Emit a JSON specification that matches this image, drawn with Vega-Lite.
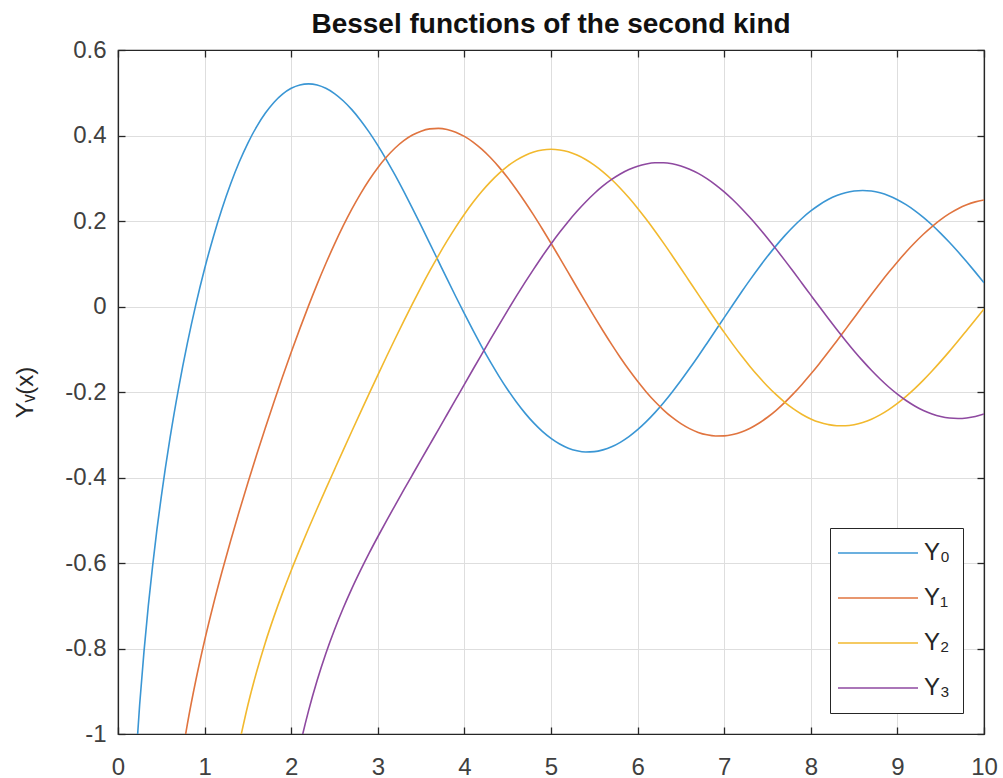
{
  "$schema": "https://vega.github.io/schema/vega-lite/v6.json",
  "autosize": {"type": "none"},
  "width": 866,
  "height": 684,
  "padding": {"left": 118, "top": 50, "right": 19, "bottom": 44},
  "background": "white",
  "title": {
    "text": "Bessel functions of the second kind",
    "font": "Liberation Sans",
    "fontSize": 28,
    "fontWeight": "bold",
    "color": "#111111",
    "offset": -1,
    "anchor": "middle"
  },
  "config": {
    "view": {"stroke": "#262626", "strokeWidth": 1.2},
    "axis": {
      "labelFont": "Liberation Sans",
      "labelFontSize": 24,
      "labelColor": "#404040",
      "titleFont": "Liberation Sans",
      "titleFontSize": 24,
      "titleFontWeight": "normal",
      "titleColor": "#262626",
      "domainColor": "#262626",
      "domainWidth": 1.2,
      "tickColor": "#262626",
      "tickWidth": 1.3,
      "gridColor": "#dedede",
      "gridWidth": 1
    }
  },
  "data": {
    "values": [
      {"x": 0.1, "y": -1.5342, "s": "Y₀"}, {"x": 0.15, "y": -1.2708, "s": "Y₀"}, {"x": 0.2, "y": -1.0811, "s": "Y₀"}, {"x": 0.25, "y": -0.9316, "s": "Y₀"},
      {"x": 0.3, "y": -0.8073, "s": "Y₀"}, {"x": 0.35, "y": -0.7001, "s": "Y₀"}, {"x": 0.4, "y": -0.606, "s": "Y₀"}, {"x": 0.45, "y": -0.5209, "s": "Y₀"},
      {"x": 0.5, "y": -0.4445, "s": "Y₀"}, {"x": 0.6, "y": -0.3085, "s": "Y₀"}, {"x": 0.7, "y": -0.1907, "s": "Y₀"}, {"x": 0.8, "y": -0.0868, "s": "Y₀"},
      {"x": 0.9, "y": 0.0056, "s": "Y₀"}, {"x": 1.0, "y": 0.0883, "s": "Y₀"}, {"x": 1.1, "y": 0.1622, "s": "Y₀"}, {"x": 1.2, "y": 0.2281, "s": "Y₀"},
      {"x": 1.3, "y": 0.2865, "s": "Y₀"}, {"x": 1.4, "y": 0.3379, "s": "Y₀"}, {"x": 1.5, "y": 0.3824, "s": "Y₀"}, {"x": 1.6, "y": 0.4204, "s": "Y₀"},
      {"x": 1.7, "y": 0.452, "s": "Y₀"}, {"x": 1.8, "y": 0.4774, "s": "Y₀"}, {"x": 1.9, "y": 0.4968, "s": "Y₀"}, {"x": 2.0, "y": 0.5104, "s": "Y₀"},
      {"x": 2.1, "y": 0.5183, "s": "Y₀"}, {"x": 2.2, "y": 0.5208, "s": "Y₀"}, {"x": 2.3, "y": 0.5181, "s": "Y₀"}, {"x": 2.4, "y": 0.5104, "s": "Y₀"},
      {"x": 2.5, "y": 0.4981, "s": "Y₀"}, {"x": 2.6, "y": 0.4813, "s": "Y₀"}, {"x": 2.7, "y": 0.4605, "s": "Y₀"}, {"x": 2.8, "y": 0.4359, "s": "Y₀"},
      {"x": 2.9, "y": 0.4079, "s": "Y₀"}, {"x": 3.0, "y": 0.3769, "s": "Y₀"}, {"x": 3.1, "y": 0.3431, "s": "Y₀"}, {"x": 3.2, "y": 0.3071, "s": "Y₀"},
      {"x": 3.3, "y": 0.2691, "s": "Y₀"}, {"x": 3.4, "y": 0.2296, "s": "Y₀"}, {"x": 3.5, "y": 0.189, "s": "Y₀"}, {"x": 3.6, "y": 0.1477, "s": "Y₀"},
      {"x": 3.7, "y": 0.1061, "s": "Y₀"}, {"x": 3.8, "y": 0.0645, "s": "Y₀"}, {"x": 3.9, "y": 0.0234, "s": "Y₀"}, {"x": 4.0, "y": -0.0169, "s": "Y₀"},
      {"x": 4.1, "y": -0.0561, "s": "Y₀"}, {"x": 4.2, "y": -0.0938, "s": "Y₀"}, {"x": 4.3, "y": -0.1296, "s": "Y₀"}, {"x": 4.4, "y": -0.1633, "s": "Y₀"},
      {"x": 4.5, "y": -0.1947, "s": "Y₀"}, {"x": 4.6, "y": -0.2235, "s": "Y₀"}, {"x": 4.7, "y": -0.2494, "s": "Y₀"}, {"x": 4.8, "y": -0.2723, "s": "Y₀"},
      {"x": 4.9, "y": -0.2921, "s": "Y₀"}, {"x": 5.0, "y": -0.3085, "s": "Y₀"}, {"x": 5.1, "y": -0.3216, "s": "Y₀"}, {"x": 5.2, "y": -0.3313, "s": "Y₀"},
      {"x": 5.3, "y": -0.3374, "s": "Y₀"}, {"x": 5.4, "y": -0.3402, "s": "Y₀"}, {"x": 5.5, "y": -0.3395, "s": "Y₀"}, {"x": 5.6, "y": -0.3354, "s": "Y₀"},
      {"x": 5.7, "y": -0.3282, "s": "Y₀"}, {"x": 5.8, "y": -0.3177, "s": "Y₀"}, {"x": 5.9, "y": -0.3044, "s": "Y₀"}, {"x": 6.0, "y": -0.2882, "s": "Y₀"},
      {"x": 6.1, "y": -0.2694, "s": "Y₀"}, {"x": 6.2, "y": -0.2483, "s": "Y₀"}, {"x": 6.3, "y": -0.2251, "s": "Y₀"}, {"x": 6.4, "y": -0.1999, "s": "Y₀"},
      {"x": 6.5, "y": -0.1732, "s": "Y₀"}, {"x": 6.6, "y": -0.1452, "s": "Y₀"}, {"x": 6.7, "y": -0.1162, "s": "Y₀"}, {"x": 6.8, "y": -0.0864, "s": "Y₀"},
      {"x": 6.9, "y": -0.0563, "s": "Y₀"}, {"x": 7.0, "y": -0.0259, "s": "Y₀"}, {"x": 7.1, "y": 0.0042, "s": "Y₀"}, {"x": 7.2, "y": 0.0339, "s": "Y₀"},
      {"x": 7.3, "y": 0.0628, "s": "Y₀"}, {"x": 7.4, "y": 0.0907, "s": "Y₀"}, {"x": 7.5, "y": 0.1173, "s": "Y₀"}, {"x": 7.6, "y": 0.1424, "s": "Y₀"},
      {"x": 7.7, "y": 0.1658, "s": "Y₀"}, {"x": 7.8, "y": 0.1872, "s": "Y₀"}, {"x": 7.9, "y": 0.2065, "s": "Y₀"}, {"x": 8.0, "y": 0.2235, "s": "Y₀"},
      {"x": 8.1, "y": 0.2381, "s": "Y₀"}, {"x": 8.2, "y": 0.2501, "s": "Y₀"}, {"x": 8.3, "y": 0.2595, "s": "Y₀"}, {"x": 8.4, "y": 0.2662, "s": "Y₀"},
      {"x": 8.5, "y": 0.2702, "s": "Y₀"}, {"x": 8.6, "y": 0.2715, "s": "Y₀"}, {"x": 8.7, "y": 0.27, "s": "Y₀"}, {"x": 8.8, "y": 0.2659, "s": "Y₀"},
      {"x": 8.9, "y": 0.2592, "s": "Y₀"}, {"x": 9.0, "y": 0.2499, "s": "Y₀"}, {"x": 9.1, "y": 0.2383, "s": "Y₀"}, {"x": 9.2, "y": 0.2245, "s": "Y₀"},
      {"x": 9.3, "y": 0.2086, "s": "Y₀"}, {"x": 9.4, "y": 0.1907, "s": "Y₀"}, {"x": 9.5, "y": 0.1712, "s": "Y₀"}, {"x": 9.6, "y": 0.1502, "s": "Y₀"},
      {"x": 9.7, "y": 0.1279, "s": "Y₀"}, {"x": 9.8, "y": 0.1045, "s": "Y₀"}, {"x": 9.9, "y": 0.0804, "s": "Y₀"}, {"x": 10.0, "y": 0.0557, "s": "Y₀"},

      {"x": 0.7, "y": -1.1032, "s": "Y₁"}, {"x": 0.8, "y": -0.9781, "s": "Y₁"}, {"x": 0.9, "y": -0.8731, "s": "Y₁"}, {"x": 1.0, "y": -0.7812, "s": "Y₁"},
      {"x": 1.1, "y": -0.6981, "s": "Y₁"}, {"x": 1.2, "y": -0.6211, "s": "Y₁"}, {"x": 1.3, "y": -0.5485, "s": "Y₁"}, {"x": 1.4, "y": -0.4791, "s": "Y₁"},
      {"x": 1.5, "y": -0.4123, "s": "Y₁"}, {"x": 1.6, "y": -0.3476, "s": "Y₁"}, {"x": 1.7, "y": -0.2847, "s": "Y₁"}, {"x": 1.8, "y": -0.2237, "s": "Y₁"},
      {"x": 1.9, "y": -0.1644, "s": "Y₁"}, {"x": 2.0, "y": -0.107, "s": "Y₁"}, {"x": 2.1, "y": -0.0517, "s": "Y₁"}, {"x": 2.2, "y": 0.0015, "s": "Y₁"},
      {"x": 2.3, "y": 0.0523, "s": "Y₁"}, {"x": 2.4, "y": 0.1005, "s": "Y₁"}, {"x": 2.5, "y": 0.1459, "s": "Y₁"}, {"x": 2.6, "y": 0.1884, "s": "Y₁"},
      {"x": 2.7, "y": 0.2276, "s": "Y₁"}, {"x": 2.8, "y": 0.2635, "s": "Y₁"}, {"x": 2.9, "y": 0.2959, "s": "Y₁"}, {"x": 3.0, "y": 0.3247, "s": "Y₁"},
      {"x": 3.1, "y": 0.3496, "s": "Y₁"}, {"x": 3.2, "y": 0.3707, "s": "Y₁"}, {"x": 3.3, "y": 0.3879, "s": "Y₁"}, {"x": 3.4, "y": 0.401, "s": "Y₁"},
      {"x": 3.5, "y": 0.4102, "s": "Y₁"}, {"x": 3.6, "y": 0.4154, "s": "Y₁"}, {"x": 3.7, "y": 0.4167, "s": "Y₁"}, {"x": 3.8, "y": 0.4141, "s": "Y₁"},
      {"x": 3.9, "y": 0.4078, "s": "Y₁"}, {"x": 4.0, "y": 0.3979, "s": "Y₁"}, {"x": 4.1, "y": 0.3846, "s": "Y₁"}, {"x": 4.2, "y": 0.368, "s": "Y₁"},
      {"x": 4.3, "y": 0.3484, "s": "Y₁"}, {"x": 4.4, "y": 0.326, "s": "Y₁"}, {"x": 4.5, "y": 0.301, "s": "Y₁"}, {"x": 4.6, "y": 0.2737, "s": "Y₁"},
      {"x": 4.7, "y": 0.2445, "s": "Y₁"}, {"x": 4.8, "y": 0.2136, "s": "Y₁"}, {"x": 4.9, "y": 0.1812, "s": "Y₁"}, {"x": 5.0, "y": 0.1479, "s": "Y₁"},
      {"x": 5.1, "y": 0.1137, "s": "Y₁"}, {"x": 5.2, "y": 0.0792, "s": "Y₁"}, {"x": 5.3, "y": 0.0445, "s": "Y₁"}, {"x": 5.4, "y": 0.0101, "s": "Y₁"},
      {"x": 5.5, "y": -0.0238, "s": "Y₁"}, {"x": 5.6, "y": -0.0568, "s": "Y₁"}, {"x": 5.7, "y": -0.0887, "s": "Y₁"}, {"x": 5.8, "y": -0.1192, "s": "Y₁"},
      {"x": 5.9, "y": -0.1481, "s": "Y₁"}, {"x": 6.0, "y": -0.175, "s": "Y₁"}, {"x": 6.1, "y": -0.1998, "s": "Y₁"}, {"x": 6.2, "y": -0.2223, "s": "Y₁"},
      {"x": 6.3, "y": -0.2422, "s": "Y₁"}, {"x": 6.4, "y": -0.2596, "s": "Y₁"}, {"x": 6.5, "y": -0.2741, "s": "Y₁"}, {"x": 6.6, "y": -0.2857, "s": "Y₁"},
      {"x": 6.7, "y": -0.2945, "s": "Y₁"}, {"x": 6.8, "y": -0.3002, "s": "Y₁"}, {"x": 6.9, "y": -0.3029, "s": "Y₁"}, {"x": 7.0, "y": -0.3027, "s": "Y₁"},
      {"x": 7.1, "y": -0.2995, "s": "Y₁"}, {"x": 7.2, "y": -0.2934, "s": "Y₁"}, {"x": 7.3, "y": -0.2846, "s": "Y₁"}, {"x": 7.4, "y": -0.2731, "s": "Y₁"},
      {"x": 7.5, "y": -0.2591, "s": "Y₁"}, {"x": 7.6, "y": -0.2428, "s": "Y₁"}, {"x": 7.7, "y": -0.2243, "s": "Y₁"}, {"x": 7.8, "y": -0.2039, "s": "Y₁"},
      {"x": 7.9, "y": -0.1817, "s": "Y₁"}, {"x": 8.0, "y": -0.1581, "s": "Y₁"}, {"x": 8.1, "y": -0.1332, "s": "Y₁"}, {"x": 8.2, "y": -0.1072, "s": "Y₁"},
      {"x": 8.3, "y": -0.0806, "s": "Y₁"}, {"x": 8.4, "y": -0.0535, "s": "Y₁"}, {"x": 8.5, "y": -0.0262, "s": "Y₁"}, {"x": 8.6, "y": 0.0011, "s": "Y₁"},
      {"x": 8.7, "y": 0.028, "s": "Y₁"}, {"x": 8.8, "y": 0.0544, "s": "Y₁"}, {"x": 8.9, "y": 0.0799, "s": "Y₁"}, {"x": 9.0, "y": 0.1043, "s": "Y₁"},
      {"x": 9.1, "y": 0.1275, "s": "Y₁"}, {"x": 9.2, "y": 0.1491, "s": "Y₁"}, {"x": 9.3, "y": 0.1691, "s": "Y₁"}, {"x": 9.4, "y": 0.1871, "s": "Y₁"},
      {"x": 9.5, "y": 0.2032, "s": "Y₁"}, {"x": 9.6, "y": 0.2171, "s": "Y₁"}, {"x": 9.7, "y": 0.2287, "s": "Y₁"}, {"x": 9.8, "y": 0.2379, "s": "Y₁"},
      {"x": 9.9, "y": 0.2447, "s": "Y₁"}, {"x": 10.0, "y": 0.249, "s": "Y₁"},

      {"x": 1.4, "y": -1.0223, "s": "Y₂"}, {"x": 1.5, "y": -0.9321, "s": "Y₂"}, {"x": 1.6, "y": -0.8549, "s": "Y₂"}, {"x": 1.7, "y": -0.7869, "s": "Y₂"},
      {"x": 1.8, "y": -0.726, "s": "Y₂"}, {"x": 1.9, "y": -0.6699, "s": "Y₂"}, {"x": 2.0, "y": -0.6174, "s": "Y₂"}, {"x": 2.1, "y": -0.5675, "s": "Y₂"},
      {"x": 2.2, "y": -0.5194, "s": "Y₂"}, {"x": 2.3, "y": -0.4726, "s": "Y₂"}, {"x": 2.4, "y": -0.4266, "s": "Y₂"}, {"x": 2.5, "y": -0.3814, "s": "Y₂"},
      {"x": 2.6, "y": -0.3364, "s": "Y₂"}, {"x": 2.7, "y": -0.2919, "s": "Y₂"}, {"x": 2.8, "y": -0.2477, "s": "Y₂"}, {"x": 2.9, "y": -0.2038, "s": "Y₂"},
      {"x": 3.0, "y": -0.1604, "s": "Y₂"}, {"x": 3.1, "y": -0.1176, "s": "Y₂"}, {"x": 3.2, "y": -0.0754, "s": "Y₂"}, {"x": 3.3, "y": -0.034, "s": "Y₂"},
      {"x": 3.4, "y": 0.0063, "s": "Y₂"}, {"x": 3.5, "y": 0.0454, "s": "Y₂"}, {"x": 3.6, "y": 0.0831, "s": "Y₂"}, {"x": 3.7, "y": 0.1191, "s": "Y₂"},
      {"x": 3.8, "y": 0.1534, "s": "Y₂"}, {"x": 3.9, "y": 0.1857, "s": "Y₂"}, {"x": 4.0, "y": 0.2159, "s": "Y₂"}, {"x": 4.1, "y": 0.2437, "s": "Y₂"},
      {"x": 4.2, "y": 0.269, "s": "Y₂"}, {"x": 4.3, "y": 0.2916, "s": "Y₂"}, {"x": 4.4, "y": 0.3115, "s": "Y₂"}, {"x": 4.5, "y": 0.3285, "s": "Y₂"},
      {"x": 4.6, "y": 0.3425, "s": "Y₂"}, {"x": 4.7, "y": 0.3534, "s": "Y₂"}, {"x": 4.8, "y": 0.3613, "s": "Y₂"}, {"x": 4.9, "y": 0.3661, "s": "Y₂"},
      {"x": 5.0, "y": 0.3677, "s": "Y₂"}, {"x": 5.1, "y": 0.3662, "s": "Y₂"}, {"x": 5.2, "y": 0.3618, "s": "Y₂"}, {"x": 5.3, "y": 0.3542, "s": "Y₂"},
      {"x": 5.4, "y": 0.3439, "s": "Y₂"}, {"x": 5.5, "y": 0.3308, "s": "Y₂"}, {"x": 5.6, "y": 0.3151, "s": "Y₂"}, {"x": 5.7, "y": 0.2971, "s": "Y₂"},
      {"x": 5.8, "y": 0.2766, "s": "Y₂"}, {"x": 5.9, "y": 0.2542, "s": "Y₂"}, {"x": 6.0, "y": 0.2299, "s": "Y₂"}, {"x": 6.1, "y": 0.2039, "s": "Y₂"},
      {"x": 6.2, "y": 0.1766, "s": "Y₂"}, {"x": 6.3, "y": 0.1482, "s": "Y₂"}, {"x": 6.4, "y": 0.1188, "s": "Y₂"}, {"x": 6.5, "y": 0.0889, "s": "Y₂"},
      {"x": 6.6, "y": 0.0586, "s": "Y₂"}, {"x": 6.7, "y": 0.0283, "s": "Y₂"}, {"x": 6.8, "y": -0.0019, "s": "Y₂"}, {"x": 6.9, "y": -0.0315, "s": "Y₂"},
      {"x": 7.0, "y": -0.0606, "s": "Y₂"}, {"x": 7.1, "y": -0.0886, "s": "Y₂"}, {"x": 7.2, "y": -0.1154, "s": "Y₂"}, {"x": 7.3, "y": -0.1408, "s": "Y₂"},
      {"x": 7.4, "y": -0.1645, "s": "Y₂"}, {"x": 7.5, "y": -0.1864, "s": "Y₂"}, {"x": 7.6, "y": -0.2063, "s": "Y₂"}, {"x": 7.7, "y": -0.2241, "s": "Y₂"},
      {"x": 7.8, "y": -0.2395, "s": "Y₂"}, {"x": 7.9, "y": -0.2525, "s": "Y₂"}, {"x": 8.0, "y": -0.263, "s": "Y₂"}, {"x": 8.1, "y": -0.271, "s": "Y₂"},
      {"x": 8.2, "y": -0.2762, "s": "Y₂"}, {"x": 8.3, "y": -0.2789, "s": "Y₂"}, {"x": 8.4, "y": -0.2789, "s": "Y₂"}, {"x": 8.5, "y": -0.2764, "s": "Y₂"},
      {"x": 8.6, "y": -0.2712, "s": "Y₂"}, {"x": 8.7, "y": -0.2636, "s": "Y₂"}, {"x": 8.8, "y": -0.2535, "s": "Y₂"}, {"x": 8.9, "y": -0.2412, "s": "Y₂"},
      {"x": 9.0, "y": -0.2267, "s": "Y₂"}, {"x": 9.1, "y": -0.2103, "s": "Y₂"}, {"x": 9.2, "y": -0.1921, "s": "Y₂"}, {"x": 9.3, "y": -0.1722, "s": "Y₂"},
      {"x": 9.4, "y": -0.1509, "s": "Y₂"}, {"x": 9.5, "y": -0.1284, "s": "Y₂"}, {"x": 9.6, "y": -0.105, "s": "Y₂"}, {"x": 9.7, "y": -0.0807, "s": "Y₂"},
      {"x": 9.8, "y": -0.0559, "s": "Y₂"}, {"x": 9.9, "y": -0.031, "s": "Y₂"}, {"x": 10.0, "y": -0.0059, "s": "Y₂"},

      {"x": 2.0, "y": -1.1278, "s": "Y₃"}, {"x": 2.1, "y": -1.0293, "s": "Y₃"}, {"x": 2.2, "y": -0.9459, "s": "Y₃"}, {"x": 2.3, "y": -0.8742, "s": "Y₃"},
      {"x": 2.4, "y": -0.8115, "s": "Y₃"}, {"x": 2.5, "y": -0.7561, "s": "Y₃"}, {"x": 2.6, "y": -0.7059, "s": "Y₃"}, {"x": 2.7, "y": -0.66, "s": "Y₃"},
      {"x": 2.8, "y": -0.6174, "s": "Y₃"}, {"x": 2.9, "y": -0.577, "s": "Y₃"}, {"x": 3.0, "y": -0.5386, "s": "Y₃"}, {"x": 3.1, "y": -0.5013, "s": "Y₃"},
      {"x": 3.2, "y": -0.465, "s": "Y₃"}, {"x": 3.3, "y": -0.4291, "s": "Y₃"}, {"x": 3.4, "y": -0.3936, "s": "Y₃"}, {"x": 3.5, "y": -0.3583, "s": "Y₃"},
      {"x": 3.6, "y": -0.3231, "s": "Y₃"}, {"x": 3.7, "y": -0.2879, "s": "Y₃"}, {"x": 3.8, "y": -0.2526, "s": "Y₃"}, {"x": 3.9, "y": -0.2173, "s": "Y₃"},
      {"x": 4.0, "y": -0.182, "s": "Y₃"}, {"x": 4.1, "y": -0.1468, "s": "Y₃"}, {"x": 4.2, "y": -0.1118, "s": "Y₃"}, {"x": 4.3, "y": -0.0771, "s": "Y₃"},
      {"x": 4.4, "y": -0.0428, "s": "Y₃"}, {"x": 4.5, "y": -0.009, "s": "Y₃"}, {"x": 4.6, "y": 0.0241, "s": "Y₃"}, {"x": 4.7, "y": 0.0563, "s": "Y₃"},
      {"x": 4.8, "y": 0.0875, "s": "Y₃"}, {"x": 4.9, "y": 0.1177, "s": "Y₃"}, {"x": 5.0, "y": 0.1463, "s": "Y₃"}, {"x": 5.1, "y": 0.1735, "s": "Y₃"},
      {"x": 5.2, "y": 0.1991, "s": "Y₃"}, {"x": 5.3, "y": 0.2228, "s": "Y₃"}, {"x": 5.4, "y": 0.2446, "s": "Y₃"}, {"x": 5.5, "y": 0.2644, "s": "Y₃"},
      {"x": 5.6, "y": 0.2819, "s": "Y₃"}, {"x": 5.7, "y": 0.2972, "s": "Y₃"}, {"x": 5.8, "y": 0.31, "s": "Y₃"}, {"x": 5.9, "y": 0.3204, "s": "Y₃"},
      {"x": 6.0, "y": 0.3283, "s": "Y₃"}, {"x": 6.1, "y": 0.3335, "s": "Y₃"}, {"x": 6.2, "y": 0.3362, "s": "Y₃"}, {"x": 6.3, "y": 0.3363, "s": "Y₃"},
      {"x": 6.4, "y": 0.3339, "s": "Y₃"}, {"x": 6.5, "y": 0.3288, "s": "Y₃"}, {"x": 6.6, "y": 0.3212, "s": "Y₃"}, {"x": 6.7, "y": 0.3114, "s": "Y₃"},
      {"x": 6.8, "y": 0.2991, "s": "Y₃"}, {"x": 6.9, "y": 0.2846, "s": "Y₃"}, {"x": 7.0, "y": 0.2681, "s": "Y₃"}, {"x": 7.1, "y": 0.2496, "s": "Y₃"},
      {"x": 7.2, "y": 0.2293, "s": "Y₃"}, {"x": 7.3, "y": 0.2074, "s": "Y₃"}, {"x": 7.4, "y": 0.1842, "s": "Y₃"}, {"x": 7.5, "y": 0.1597, "s": "Y₃"},
      {"x": 7.6, "y": 0.1342, "s": "Y₃"}, {"x": 7.7, "y": 0.1079, "s": "Y₃"}, {"x": 7.8, "y": 0.0811, "s": "Y₃"}, {"x": 7.9, "y": 0.0539, "s": "Y₃"},
      {"x": 8.0, "y": 0.0266, "s": "Y₃"}, {"x": 8.1, "y": -0.0006, "s": "Y₃"}, {"x": 8.2, "y": -0.0275, "s": "Y₃"}, {"x": 8.3, "y": -0.0538, "s": "Y₃"},
      {"x": 8.4, "y": -0.0793, "s": "Y₃"}, {"x": 8.5, "y": -0.1039, "s": "Y₃"}, {"x": 8.6, "y": -0.1272, "s": "Y₃"}, {"x": 8.7, "y": -0.1492, "s": "Y₃"},
      {"x": 8.8, "y": -0.1696, "s": "Y₃"}, {"x": 8.9, "y": -0.1883, "s": "Y₃"}, {"x": 9.0, "y": -0.2051, "s": "Y₃"}, {"x": 9.1, "y": -0.2199, "s": "Y₃"},
      {"x": 9.2, "y": -0.2326, "s": "Y₃"}, {"x": 9.3, "y": -0.2432, "s": "Y₃"}, {"x": 9.4, "y": -0.2513, "s": "Y₃"}, {"x": 9.5, "y": -0.2573, "s": "Y₃"},
      {"x": 9.6, "y": -0.2609, "s": "Y₃"}, {"x": 9.7, "y": -0.262, "s": "Y₃"}, {"x": 9.8, "y": -0.2607, "s": "Y₃"}, {"x": 9.9, "y": -0.2572, "s": "Y₃"},
      {"x": 10.0, "y": -0.2514, "s": "Y₃"}
    ]
  },
  "layer": [
    {
      "mark": {"type": "line", "clip": true, "strokeWidth": 1.6, "interpolate": "monotone"},
      "encoding": {
        "x": {
          "field": "x", "type": "quantitative",
          "scale": {"domain": [0, 10], "nice": false, "zero": false},
          "axis": {
            "title": null, "orient": "bottom", "values": [0, 1, 2, 3, 4, 5, 6, 7, 8, 9, 10],
            "grid": true, "tickSize": -7, "labelPadding": 28, "labelFlush": false,
            "labelExpr": "replace(format(datum.value, '.1~f'), '−', '-')"
          }
        },
        "y": {
          "field": "y", "type": "quantitative",
          "scale": {"domain": [-1, 0.6], "nice": false, "zero": false},
          "axis": {
            "title": "Yᵥ(x)", "orient": "left", "values": [-1, -0.8, -0.6, -0.4, -0.2, 0, 0.2, 0.4, 0.6],
            "grid": true, "tickSize": -7, "labelPadding": 19, "titlePadding": 27, "labelFlush": false,
            "labelExpr": "replace(format(datum.value, '.1~f'), '−', '-')"
          }
        },
        "color": {
          "field": "s", "type": "nominal",
          "scale": {"domain": ["Y₀", "Y₁", "Y₂", "Y₃"], "range": ["#3a96d4", "#e0743f", "#f2b92e", "#8e49a0"]},
          "legend": {
            "title": null, "orient": "bottom-right", "offset": 21,
            "strokeColor": "#262626", "fillColor": "white",
            "padding": 13, "symbolType": "M-4,0H4", "symbolSize": 400, "symbolStrokeWidth": 1.6,
            "symbolOffset": 23,
            "labelFont": "Liberation Sans", "labelFontSize": 24, "labelColor": "#262626",
            "labelOffset": 34, "rowPadding": 21
          }
        }
      }
    },
    {
      "mark": {"type": "line", "strokeOpacity": 0},
      "encoding": {
        "x": {
          "field": "x", "type": "quantitative",
          "axis": {"title": null, "orient": "top", "values": [0, 1, 2, 3, 4, 5, 6, 7, 8, 9, 10], "labels": false, "grid": false, "tickSize": -7}
        },
        "y": {
          "field": "y", "type": "quantitative",
          "axis": {"title": null, "orient": "right", "values": [-1, -0.8, -0.6, -0.4, -0.2, 0, 0.2, 0.4, 0.6], "labels": false, "grid": false, "tickSize": -7}
        },
        "detail": {"field": "s"}
      }
    }
  ],
  "resolve": {"axis": {"x": "independent", "y": "independent"}}
}
